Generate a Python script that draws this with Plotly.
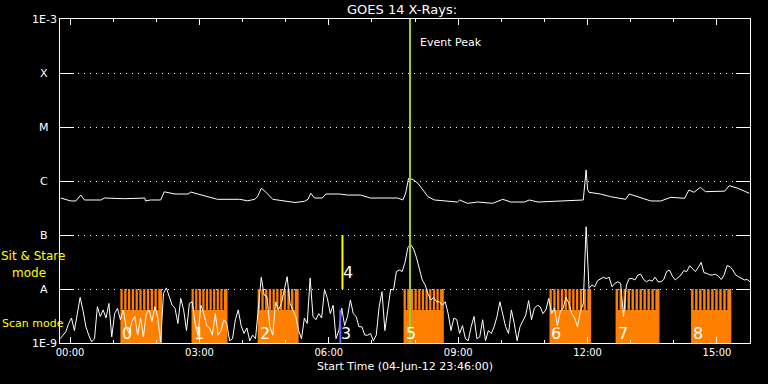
import numpy as np
import pandas as pd
import plotly.graph_objects as go

# ---------------- data ----------------
START = pd.Timestamp("2012-06-04 23:46:00")
END = START + pd.Timedelta(hours=16)
SHORT_CADENCE_MIN = 4

# GOES 14 0.5-4 A channel, units of 1e-9 W/m^2, one value every 4 minutes from start
short_flux_nW = [
    1.2, 1.4, 1.6, 2.3, 2.9, 1.7, 3.5, 7.0, 4.0, 2.0, 1.4, 1.05, 1.2, 4.7, 3.1, 4.1, 2.9, 5.4, 1.3, 3.5,
    4.4, 2.7, 4.1, 2.0, 1.5, 2.5, 3.1, 1.4, 2.9, 1.3, 3.5, 4.1, 2.5, 4.7, 2.9, 1.05, 8.3, 10.5, 7.2, 5.0,
    4.4, 2.3, 6.7, 4.1, 1.7, 5.4, 5.8, 2.3, 1.4,
    5.0, 3.5, 2.1, 1.9, 1.4, 3.5, 1.4, 1.7, 2.7, 2.3, 1.1, 1.2, 2.7, 4.1, 2.1, 1.5, 1.9, 1.1, 1.4, 1.2,
    5.4, 16.5, 7.7, 7.2, 2.0, 1.4, 5.8, 4.1, 5.4, 9.6, 16.9, 5.4, 4.1, 3.1, 1.7, 1.2, 2.9, 2.3, 16.0, 3.1,
    2.7, 3.5, 2.9, 9.8, 6.7, 3.5, 5.0, 1.2, 1.7,
    4.4, 2.1, 3.1, 6.25, 3.5, 3.1, 2.0, 2.0, 1.4, 1.4, 1.5, 1.1, 1.4, 4.7, 8.9, 1.7, 4.1, 9.8, 9.6, 21,
    22.5, 21, 31, 59, 66, 55, 38, 22.5, 14.7, 11.9, 8.1, 6.25, 7.0, 5.8, 5.8, 5.0, 5.8, 3.5, 1.7, 2.9,
    2.7, 1.5, 2.1, 1.2, 1.1, 2.0, 3.1, 1.2,
    1.3, 2.7, 1.1, 1.7, 1.5, 2.0, 3.1, 5.8, 3.5, 2.0, 1.5, 4.1, 2.3, 1.1, 2.0, 2.5, 3.3, 6.1, 2.7, 4.4,
    5.0, 4.7, 3.5, 4.1, 6.7, 3.5, 4.4, 2.1, 3.8, 4.4, 7.0, 5.4, 3.5, 2.9, 2.0, 3.8, 5.4, 142, 10.2, 11.9,
    11, 14.3, 15.6, 16.5, 15.6, 16.5, 11, 12.7, 13.6,
    12.7, 3.1, 11.9, 15.6, 15.6, 14.7, 18.2, 18.8, 15, 13.6, 14.7, 14, 16.5, 13.6, 13.6, 15, 21, 22.5,
    17.3, 14.7, 16.5, 18.2, 22, 21, 27, 24, 21, 25, 31, 20, 19.5, 18.2, 18.2, 18.8, 17.3, 15, 18.2, 27,
    26, 22.5, 18.2, 16.9, 15.6, 14.7, 15, 13.6,
]

# GOES 14 1-8 A channel: minutes after start, flux in 1e-7 W/m^2
long_minutes = [
    1, 15, 22, 29, 34, 57, 62, 90, 118, 119, 126, 140, 145, 160, 178, 182, 192, 205, 219, 250,
    261, 271, 275, 280, 285, 296, 313, 327, 340, 345, 349, 354, 365, 370, 389, 400, 418, 432, 470, 477,
    481, 485, 491, 498, 505, 512, 521, 539, 553, 556, 567, 581, 595, 602, 616, 627, 646, 653, 665, 702,
    710, 728, 732, 734, 736, 752, 766, 787, 792, 804, 822, 836, 850, 869, 875, 882, 891, 898, 915, 925,
    931, 943, 959,
]
long_flux_e7 = [
    4.84, 4.27, 4.27, 5.5, 4.45, 4.45, 4.84, 4.7, 4.84, 4.27, 4.45, 4.45, 6.3, 5.74, 5.74, 6.25, 5.74, 5.12, 4.58, 4.58,
    4.3, 4.58, 5.2, 7.33, 6.5, 4.58, 4.2, 4.0, 4.2, 4.58, 5.92, 4.84, 4.84, 5.74, 5.74, 5.5, 5.5, 4.84, 4.84, 4.45,
    6.0, 11.2, 10.7, 9.06, 6.81, 5.12, 4.45, 4.18, 4.08, 4.45, 3.86, 4.08, 3.86, 3.86, 4.58, 4.08, 4.08, 4.45, 4.08, 4.27,
    4.45, 4.45, 16.0, 7.0, 6.18, 5.74, 5.12, 4.58, 5.74, 5.12, 4.27, 4.27, 4.99, 4.78, 6.81, 6.18, 7.64, 6.34, 6.34, 6.5,
    8.19, 7.33, 5.92,
]

# IRIS scan-mode rasters and sit-and-stare observations (times on 05-Jun-12)
scan_labels = ["0", "1", "2", "5", "6", "7", "8"]
scan_start = ["01:10", "02:49", "04:21", "07:44", "11:07", "12:39", "14:24"]
scan_end = ["02:08", "03:39", "05:18", "08:40", "12:05", "13:40", "15:20"]
scan_teeth = [11, 10, 11, 11, 11, 11, 10]
stare_labels = ["3", "4"]
stare_times = ["06:16", "06:19"]
event_peak_time = "07:53"

goes_levels = [1e-9, 1e-8, 1e-7, 1e-6, 1e-5, 1e-4, 1e-3]
goes_level_text = ["1E-9", "A", "B", "C", "M", "X", "1E-3"]
x_tick_hours = [0, 3, 6, 9, 12, 15]

# ---------------- styles ----------------
FONT = "DejaVu Sans"
WHITE = "#ffffff"
ORANGE = "#ff8000"
YELLOW = "#ffff00"
GREEN = "#9acd32"
BLUE = "#6464ff"
SCAN_BODY_TOP = 4.1e-9


def day_ts(hhmm):
    return pd.Timestamp("2012-06-05 " + hhmm)


def s(t):
    return t.strftime("%Y-%m-%d %H:%M:%S.%f")


short_t = [START + pd.Timedelta(minutes=SHORT_CADENCE_MIN * i) for i in range(len(short_flux_nW))]
short_y = [v * 1e-9 for v in short_flux_nW]
long_t = [START + pd.Timedelta(minutes=m) for m in long_minutes]
long_y = [v * 1e-7 for v in long_flux_e7]

fig = go.Figure()
fig.add_trace(go.Scatter(x=[s(t) for t in long_t], y=long_y, mode="lines",
                         line=dict(color=WHITE, width=1), hoverinfo="skip", showlegend=False))
fig.add_trace(go.Scatter(x=[s(t) for t in short_t], y=short_y, mode="lines",
                         line=dict(color=WHITE, width=1), hoverinfo="skip", showlegend=False))

shapes = []
annotations = []
for lab, a, b, n in zip(scan_labels, scan_start, scan_end, scan_teeth):
    t0, t1 = day_ts(a), day_ts(b)
    shapes.append(dict(type="rect", xref="x", yref="y", x0=s(t0), x1=s(t1), y0=1e-9, y1=SCAN_BODY_TOP,
                       fillcolor=ORANGE, line=dict(width=0), layer="between"))
    period = (t1 - t0) / n
    for k in range(n):
        ta = t0 + period * k
        tb = ta + period * 0.62 if k < n - 1 else t1
        shapes.append(dict(type="rect", xref="x", yref="y", x0=s(ta), x1=s(tb), y0=SCAN_BODY_TOP, y1=1e-8,
                           fillcolor=ORANGE, line=dict(width=0), layer="between"))
    annotations.append(dict(x=s(t0), y=np.log10(1.5e-9), xref="x", yref="y", text=lab, showarrow=False,
                            xanchor="left", yanchor="middle", xshift=0,
                            font=dict(family=FONT, size=16, color=WHITE)))

# sit & stare markers
t3 = day_ts(stare_times[0])
t4 = day_ts(stare_times[1])
shapes.append(dict(type="line", xref="x", yref="y", x0=s(t3), x1=s(t3), y0=1e-9, y1=SCAN_BODY_TOP,
                   line=dict(color=BLUE, width=2), layer="above"))
shapes.append(dict(type="line", xref="x", yref="y", x0=s(t4), x1=s(t4), y0=1e-8, y1=1e-7,
                   line=dict(color=YELLOW, width=2), layer="above"))
annotations.append(dict(x=s(t3), y=np.log10(1.5e-9), xref="x", yref="y", text=stare_labels[0],
                        showarrow=False, xanchor="left", yanchor="middle", xshift=-1,
                        font=dict(family=FONT, size=16, color=WHITE)))
annotations.append(dict(x=s(t4), y=np.log10(2.0e-8), xref="x", yref="y", text=stare_labels[1],
                        showarrow=False, xanchor="left", yanchor="middle", xshift=-1,
                        font=dict(family=FONT, size=16, color=WHITE)))

# event peak
tp = day_ts(event_peak_time)
shapes.append(dict(type="line", xref="x", yref="paper", x0=s(tp), x1=s(tp), y0=0, y1=1,
                   line=dict(color=GREEN, width=2), layer="above"))
annotations.append(dict(x=s(tp), y=np.log10(3.6e-4), xref="x", yref="y", text="Event Peak",
                        showarrow=False, xanchor="left", yanchor="middle", xshift=8,
                        font=dict(family=FONT, size=11, color=WHITE)))

# y tick labels (centered, as in the original)
for lv, txt in zip(goes_levels, goes_level_text):
    annotations.append(dict(x=0, y=np.log10(lv), xref="paper", yref="y", text=txt, showarrow=False,
                            xanchor="center", yanchor="middle", xshift=-16,
                            font=dict(family=FONT, size=11, color=WHITE)))

# mode labels
annotations.append(dict(x=0, y=np.log10(4.0e-8), xref="paper", yref="y", text="Sit & Stare", showarrow=False,
                        xanchor="left", yanchor="middle", xshift=-60, borderpad=0,
                        font=dict(family=FONT, size=12, color=YELLOW)))
annotations.append(dict(x=0, y=np.log10(1.97e-8), xref="paper", yref="y", text="mode", showarrow=False,
                        xanchor="left", yanchor="middle", xshift=-49, borderpad=0,
                        font=dict(family=FONT, size=12, color=YELLOW)))
annotations.append(dict(x=0, y=np.log10(2.3e-9), xref="paper", yref="y", text="Scan mode", showarrow=False,
                        xanchor="left", yanchor="middle", xshift=-60,
                        font=dict(family=FONT, size=11, color=YELLOW)))

# title and x title
annotations.append(dict(x=0.4957, y=1.028, xref="paper", yref="paper", text="GOES 14 X-Rays:", showarrow=False,
                        xanchor="center", yanchor="middle", font=dict(family=FONT, size=13, color=WHITE)))
annotations.append(dict(x=0.5, y=-0.074, xref="paper", yref="paper", text="Start Time (04-Jun-12 23:46:00)",
                        showarrow=False, xanchor="center", yanchor="middle",
                        font=dict(family=FONT, size=11, color=WHITE)))

tickvals = [s(day_ts(f"{h:02d}:00")) for h in x_tick_hours]
ticktext = [f"{h:02d}:00" for h in x_tick_hours]

fig.update_layout(
    width=768, height=384,
    margin=dict(l=60, r=18, t=19, b=41),
    paper_bgcolor="black", plot_bgcolor="black",
    font=dict(family=FONT, color=WHITE),
    shapes=shapes, annotations=annotations,
    showlegend=False,
)
fig.update_xaxes(
    type="date", range=[s(START), s(END)],
    tickvals=tickvals, ticktext=ticktext,
    ticks="inside", ticklen=6, tickwidth=1, tickcolor=WHITE,
    minor=dict(dtick=3600000, tick0=tickvals[0], ticks="inside", ticklen=3, tickcolor=WHITE, tickwidth=1),
    showline=True, linecolor=WHITE, linewidth=1, mirror="ticks",
    showgrid=False, zeroline=False,
    tickfont=dict(family=FONT, size=10, color=WHITE),
)
fig.update_yaxes(
    type="log", range=[-9, -3],
    tickvals=goes_levels, showticklabels=False,
    ticks="inside", ticklen=14, tickwidth=1, tickcolor=WHITE,
    showline=True, linecolor=WHITE, linewidth=1, mirror="ticks",
    showgrid=True, gridcolor=WHITE, gridwidth=1, griddash="1px,5px",
    zeroline=False,
)

fig.write_html("out.html")
